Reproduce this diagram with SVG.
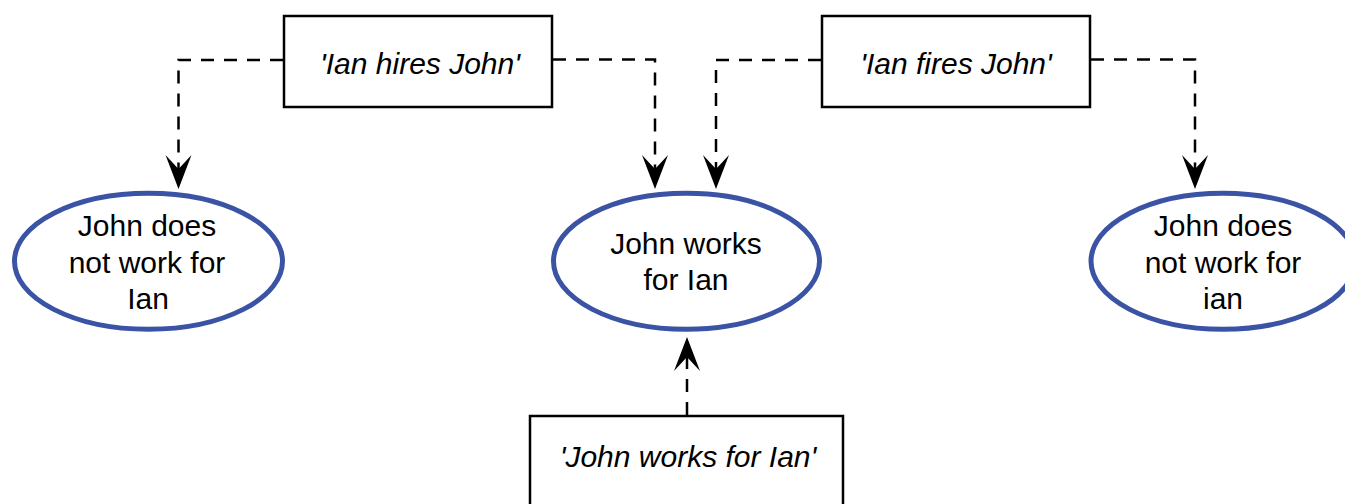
<svg xmlns="http://www.w3.org/2000/svg" width="1345" height="504" viewBox="0 0 1345 504">
<style>
.box{fill:#fff;stroke:#000;stroke-width:2.5}
.ell{fill:#fff;stroke:#3A53A4;stroke-width:5}
.t{font-family:"Liberation Sans",Arial,Helvetica,sans-serif;font-size:30px;fill:#000;text-anchor:middle}
.i{font-style:italic}
.c{fill:none;stroke:#000;stroke-width:2.5;stroke-dasharray:13 10}
</style>
<defs>
<marker id="arr" markerUnits="userSpaceOnUse" viewBox="-35 -14 36 28" markerWidth="36" markerHeight="28" refX="-20" refY="0" orient="auto">
<path d="M0,0 L-34,-13 L-20,0 L-34,13 Z" fill="#000"/>
</marker>
</defs>
<rect width="1345" height="504" fill="#fff"/>
<g id="connectors">
<path class="c" d="M283,60 H178.5 V169" marker-end="url(#arr)"/>
<path class="c" d="M553,59.5 H655 V169" marker-end="url(#arr)"/>
<path class="c" d="M821,60 H716 V169" marker-end="url(#arr)"/>
<path class="c" d="M1091,59.5 H1195 V169" marker-end="url(#arr)"/>
<path class="c" d="M687,415 V357" marker-end="url(#arr)"/>
</g>
<g id="hires">
<rect class="box" x="284" y="16" width="268" height="91"/>
<text class="t i" x="420" y="74">'Ian hires John'</text>
</g>
<g id="fires">
<rect class="box" x="822" y="16" width="268" height="91"/>
<text class="t i" x="956" y="74">'Ian fires John'</text>
</g>
<g id="worksbox">
<rect class="box" x="530" y="416" width="313" height="100"/>
<text class="t i" x="688" y="467">'John works for Ian'</text>
</g>
<g id="notwork1">
<ellipse class="ell" cx="148.5" cy="261.3" rx="134" ry="68"/>
<text class="t" x="147" y="236">John does</text>
<text class="t" x="147" y="272.5">not work for</text>
<text class="t" x="148" y="308.5">Ian</text>
</g>
<g id="works">
<ellipse class="ell" cx="686.5" cy="261.3" rx="133" ry="68"/>
<text class="t" x="686" y="254">John works</text>
<text class="t" x="686" y="290">for Ian</text>
</g>
<g id="notwork2">
<ellipse class="ell" cx="1223" cy="261.3" rx="132" ry="68"/>
<text class="t" x="1223" y="236">John does</text>
<text class="t" x="1223" y="272.5">not work for</text>
<text class="t" x="1223" y="308.5">ian</text>
</g>
</svg>
